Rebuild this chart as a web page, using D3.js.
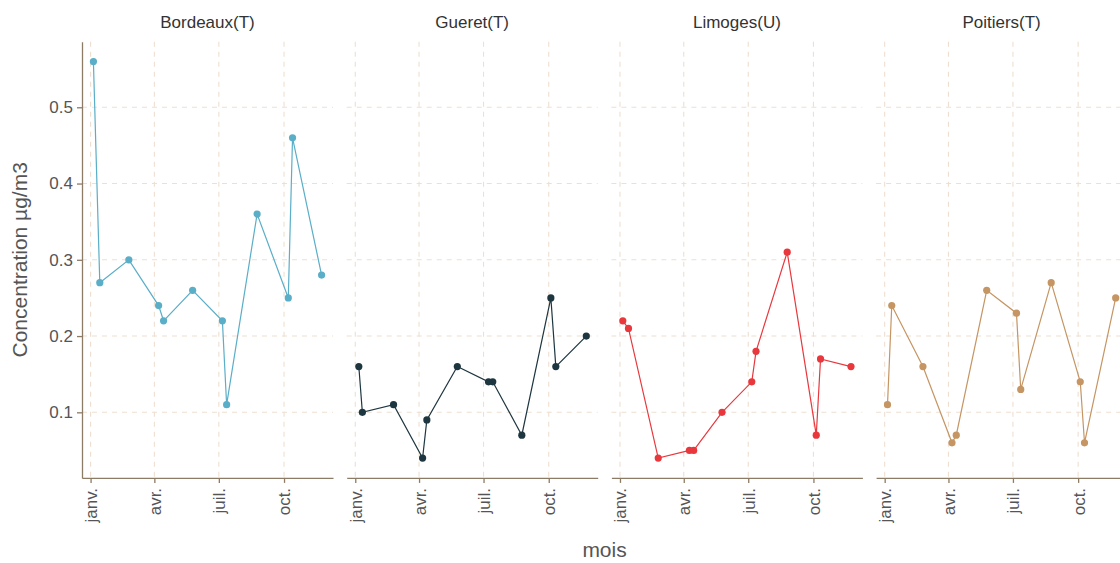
<!DOCTYPE html>
<html>
<head>
<meta charset="utf-8">
<script src="https://cdn.jsdelivr.net/npm/d3@7"></script>
<style>
  html, body { margin: 0; padding: 0; background: #ffffff; }
  svg { display: block; font-family: "Liberation Sans", Arial, sans-serif; }
</style>
</head>
<body>
<svg id="chart" width="1120" height="563"></svg>
<script>
// Sites (facets) and their colours
const sites = ["Bordeaux(T)", "Gueret(T)", "Limoges(U)", "Poitiers(T)"];
const siteColors = ["#5aaec7", "#1d3640", "#e8383d", "#c59563"];

// Sampling dates per site
const datesBordeaux = ["2019-01-05", "2019-01-14", "2019-02-24", "2019-04-07", "2019-04-14", "2019-05-25",
                       "2019-07-06", "2019-07-12", "2019-08-24", "2019-10-07", "2019-10-13", "2019-11-23"];
const datesGueret   = ["2019-01-06", "2019-01-11", "2019-02-24", "2019-04-06", "2019-04-12", "2019-05-25",
                       "2019-07-08", "2019-07-14", "2019-08-24", "2019-10-04", "2019-10-11", "2019-11-23"];
const datesLimoges  = ["2019-01-05", "2019-01-13", "2019-02-24", "2019-04-09", "2019-04-15", "2019-05-25",
                       "2019-07-06", "2019-07-12", "2019-08-25", "2019-10-05", "2019-10-11", "2019-11-23"];
const datesPoitiers = ["2019-01-05", "2019-01-11", "2019-02-24", "2019-04-06", "2019-04-12", "2019-05-25",
                       "2019-07-06", "2019-07-12", "2019-08-24", "2019-10-04", "2019-10-10", "2019-11-23"];

// Concentrations (µg/m3)
const valuesBordeaux = [0.56, 0.27, 0.30, 0.24, 0.22, 0.26, 0.22, 0.11, 0.36, 0.25, 0.46, 0.28];
const valuesGueret   = [0.16, 0.10, 0.11, 0.04, 0.09, 0.16, 0.14, 0.14, 0.07, 0.25, 0.16, 0.20];
const valuesLimoges  = [0.22, 0.21, 0.04, 0.05, 0.05, 0.10, 0.14, 0.18, 0.31, 0.07, 0.17, 0.16];
const valuesPoitiers = [0.11, 0.24, 0.16, 0.06, 0.07, 0.26, 0.23, 0.13, 0.27, 0.14, 0.06, 0.25];

// Axis ticks
const monthTickDates = ["2019-01-01", "2019-04-01", "2019-07-01", "2019-10-01"];
const monthTickLabels = ["janv.", "avr.", "juil.", "oct."];
const yTicks = [0.1, 0.2, 0.3, 0.4, 0.5];

const parse = d3.timeParse("%Y-%m-%d");
const siteDates = [datesBordeaux, datesGueret, datesLimoges, datesPoitiers];
const siteValues = [valuesBordeaux, valuesGueret, valuesLimoges, valuesPoitiers];
const series = sites.map((name, i) => ({
  name,
  color: siteColors[i],
  points: siteDates[i].map((d, j) => ({ date: parse(d), value: siteValues[i][j] }))
}));

// Layout
const panelLeft = 82, panelStep = 264.7, panelW = 251;
const panelTop = 41.7, panelH = 436.2;
const axisColor = "#8c7b65", gridColor = "#eedfd1", textColor = "#555555";

// Shared scales with 5% expansion on each side
const allPts = series.flatMap(s => s.points);
const xExt = d3.extent(allPts, p => p.date);
const xPad = (xExt[1] - xExt[0]) * 0.05;
const x = d3.scaleTime()
  .domain([new Date(+xExt[0] - xPad), new Date(+xExt[1] + xPad)])
  .range([0, panelW]);
const yExt = d3.extent(allPts, p => p.value);
const yPad = (yExt[1] - yExt[0]) * 0.05;
const y = d3.scaleLinear()
  .domain([yExt[0] - yPad, yExt[1] + yPad])
  .range([panelH, 0]);

const tickDates = monthTickDates.map(parse);
const svg = d3.select("#chart");

series.forEach((s, i) => {
  const g = svg.append("g")
    .attr("transform", `translate(${panelLeft + i * panelStep},${panelTop})`);

  // dashed grid
  g.append("g").selectAll("line.h").data(yTicks).join("line")
    .attr("x1", 0).attr("x2", panelW)
    .attr("y1", d => y(d)).attr("y2", d => y(d))
    .attr("stroke", gridColor).attr("stroke-width", 1.1).attr("stroke-dasharray", "5,5");
  g.append("g").selectAll("line.v").data(tickDates).join("line")
    .attr("x1", d => x(d)).attr("x2", d => x(d))
    .attr("y1", 0).attr("y2", panelH)
    .attr("stroke", gridColor).attr("stroke-width", 1.1).attr("stroke-dasharray", "5,5");

  // strip title
  svg.append("text")
    .attr("x", panelLeft + i * panelStep + panelW / 2)
    .attr("y", 28)
    .attr("text-anchor", "middle")
    .attr("font-size", 17)
    .attr("fill", "#333333")
    .text(s.name);

  // x axis
  const xAxis = d3.axisBottom(x)
    .tickValues(tickDates)
    .tickFormat((d, k) => monthTickLabels[k])
    .tickSize(5).tickSizeOuter(0);
  const xg = g.append("g").attr("transform", `translate(0,${panelH})`).call(xAxis);
  xg.select(".domain").attr("stroke", axisColor).attr("stroke-width", 1.3);
  xg.selectAll(".tick line").attr("stroke", axisColor).attr("stroke-width", 1.3);
  xg.selectAll(".tick text")
    .attr("font-size", 17)
    .attr("font-family", "Liberation Sans, Arial, sans-serif")
    .attr("fill", textColor)
    .attr("text-anchor", "end")
    .attr("transform", "rotate(-90)")
    .attr("x", -10).attr("y", 0).attr("dy", "0.35em");

  // y axis only on the first panel
  if (i === 0) {
    const yAxis = d3.axisLeft(y).tickValues(yTicks).tickFormat(d3.format(".1f"))
      .tickSize(5).tickSizeOuter(0);
    const yg = g.append("g").call(yAxis);
    yg.select(".domain").attr("stroke", axisColor).attr("stroke-width", 1.3);
    yg.selectAll(".tick line").attr("stroke", axisColor).attr("stroke-width", 1.3);
    yg.selectAll(".tick text")
      .attr("font-size", 17)
      .attr("font-family", "Liberation Sans, Arial, sans-serif")
      .attr("fill", textColor)
      .attr("x", -9);
  }

  // series line and points
  const line = d3.line().x(p => x(p.date)).y(p => y(p.value));
  g.append("path").datum(s.points)
    .attr("d", line).attr("fill", "none")
    .attr("stroke", s.color).attr("stroke-width", 1.2);
  g.append("g").selectAll("circle").data(s.points).join("circle")
    .attr("cx", p => x(p.date)).attr("cy", p => y(p.value))
    .attr("r", 3.6).attr("fill", s.color);
});

// axis titles
svg.append("text")
  .attr("x", panelLeft + (3 * panelStep + panelW) / 2)
  .attr("y", 557)
  .attr("text-anchor", "middle")
  .attr("font-size", 21)
  .attr("fill", textColor)
  .text("mois");
svg.append("text")
  .attr("transform", `translate(27,${panelTop + panelH / 2}) rotate(-90)`)
  .attr("text-anchor", "middle")
  .attr("font-size", 21)
  .attr("fill", textColor)
  .text("Concentration µg/m3");
</script>
</body>
</html>
